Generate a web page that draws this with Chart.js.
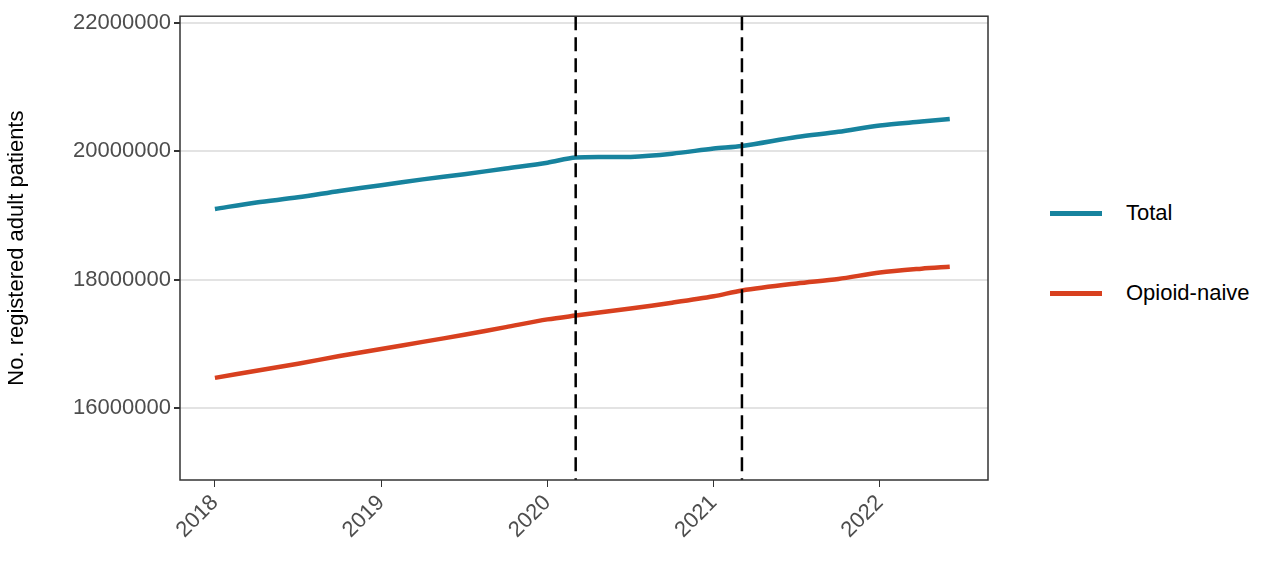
<!DOCTYPE html>
<html><head><meta charset="utf-8">
<script src="https://cdn.jsdelivr.net/npm/chart.js@4"></script>
<style>
body{margin:0;background:#fff;font-family:Arial,"Liberation Sans",sans-serif;}
#wrap{position:absolute;left:0;top:0;width:990px;height:561px;}
.lg{position:absolute;left:1050px;font-size:22px;color:#000;display:flex;align-items:center;}
.lg span{display:inline-block;width:52px;height:5px;margin-right:24px;}
</style></head><body>
<div id="wrap"><canvas id="c"></canvas></div>
<div class="lg" style="top:200px"><span style="background:#17839e"></span>Total</div>
<div class="lg" style="top:280px"><span style="background:#d8401f"></span>Opioid-naive</div>
<script>
// quarterly time points (decimal years)
const times = [2018.0,2018.25,2018.5,2018.75,2019.0,2019.25,2019.5,2019.75,2020.0,2020.17,2020.5,2020.75,2021.0,2021.17,2021.5,2021.75,2022.0,2022.25,2022.42];
const totalPatients = [19100000,19200000,19280000,19380000,19470000,19560000,19640000,19730000,19820000,19900000,19910000,19960000,20040000,20080000,20220000,20300000,20400000,20460000,20500000];
const naivePatients = [16470000,16580000,16690000,16810000,16920000,17030000,17140000,17260000,17380000,17440000,17550000,17640000,17740000,17830000,17940000,18010000,18110000,18170000,18200000];
const yTicks = [16000000,18000000,20000000,22000000];
const xTicks = [2018,2019,2020,2021,2022];
const vLines = [2020.17,2021.17];

const extras = {
  id:'extras',
  afterDatasetsDraw(chart){
    const {ctx,chartArea:a,scales:{x}} = chart;
    ctx.save();
    ctx.strokeStyle='#000';ctx.lineWidth=2.5;ctx.setLineDash([14,7]);
    vLines.forEach(v=>{const px=x.getPixelForValue(v);ctx.beginPath();ctx.moveTo(px,a.top);ctx.lineTo(px,a.bottom);ctx.stroke();});
    ctx.setLineDash([]);ctx.strokeStyle='#333';ctx.lineWidth=1.5;
    ctx.strokeRect(a.left,a.top,a.right-a.left,a.bottom-a.top);
    ctx.restore();
  }
};

new Chart(document.getElementById('c'),{
  type:'line',
  data:{datasets:[
    {label:'Total',data:times.map((t,i)=>({x:t,y:totalPatients[i]})),borderColor:'#17839e',borderWidth:4.5,pointRadius:0,tension:0.3},
    {label:'Opioid-naive',data:times.map((t,i)=>({x:t,y:naivePatients[i]})),borderColor:'#d8401f',borderWidth:4.5,pointRadius:0,tension:0.3}
  ]},
  options:{
    responsive:true,maintainAspectRatio:false,animation:false,
    layout:{padding:{left:0,top:-9,right:2,bottom:0}},
    plugins:{legend:{display:false},tooltip:{enabled:false}},
    scales:{
      x:{type:'linear',min:2017.79,max:2022.65,
        afterBuildTicks:s=>{s.ticks=xTicks.map(v=>({value:v}));},
        afterFit:s=>{s.height=81;},
        grid:{drawOnChartArea:false,tickLength:7,tickColor:'#333'},border:{display:false},
        ticks:{color:'#4d4d4d',font:{size:22},maxRotation:45,minRotation:45,callback:v=>String(v)}},
      y:{min:14880000,max:22100000,
        afterBuildTicks:s=>{s.ticks=yTicks.map(v=>({value:v}));},
        afterFit:s=>{s.width=180;},
        grid:{color:'#e3e3e3',lineWidth:2,tickLength:6,tickColor:'#333'},border:{display:false},
        title:{display:true,text:'No. registered adult patients',color:'#000',font:{size:22},padding:{bottom:4}},
        ticks:{color:'#4d4d4d',font:{size:22},callback:v=>String(v)}}
    }
  },
  plugins:[extras]
});
</script></body></html>
